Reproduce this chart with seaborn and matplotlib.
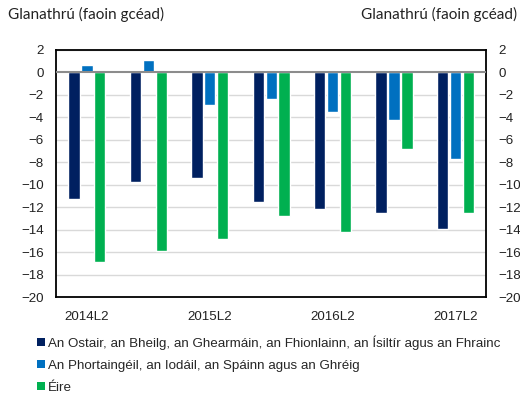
import pandas as pd
import seaborn as sns
import matplotlib.pyplot as plt
from matplotlib.patches import Patch

# Data
periods = ["2014L2", "2014L4", "2015L2", "2015L4", "2016L2", "2016L4", "2017L2"]
series = [
    "An Ostair, an Bheilg, an Ghearmáin, an Fhionlainn, an Ísiltír agus an Fhrainc",
    "An Phortaingéil, an Iodáil, an Spáinn agus an Ghréig",
    "Éire",
]
core = [-11.3, -9.8, -9.4, -11.5, -12.2, -12.5, -13.9]
periphery = [0.7, 1.1, -2.9, -2.4, -3.5, -4.2, -7.7]
ireland = [-16.9, -15.9, -14.8, -12.8, -14.2, -6.8, -12.5]
tick_labels = ["2014L2", "", "2015L2", "", "2016L2", "", "2017L2"]
colors = ["#002060", "#0070C0", "#00B050"]

df = pd.DataFrame({"period": periods * 3,
                   "series": [series[0]] * 7 + [series[1]] * 7 + [series[2]] * 7,
                   "value": core + periphery + ireland})

sns.set_style("white")
plt.rcParams['font.family'] = ['Liberation Sans', 'DejaVu Sans']

fig = plt.figure(figsize=(5.2, 4), dpi=100)
ax = fig.add_axes([0.108, 0.2575, 0.827, 0.6175])

ax.set_axisbelow(True)
for v in range(-20, 3, 2):
    if v != 0:
        ax.axhline(v, color="#D9D9D9", lw=1, zorder=0)

sns.barplot(data=df, x="period", y="value", hue="series", palette=colors,
            width=0.63, gap=0.12, ax=ax, legend=False, saturation=1)
ax.axhline(0, color="#8C8C8C", lw=1.5, zorder=3)

ax.set_ylim(-20, 2)
ax.set_xlim(-0.5, 6.5)
ax.set_yticks(range(-20, 3, 2))
ax.set_xticks(range(7))
ax.set_xticklabels(tick_labels)
ax.set_xlabel("")
ax.set_ylabel("")
ax.tick_params(axis="both", length=0, labelsize=9.6, pad=9, colors="#222222")
ax.tick_params(axis="x", pad=10)
for s in ax.spines.values():
    s.set_color("black")
    s.set_linewidth(1.3)

ax2 = ax.twinx()
ax2.set_ylim(-20, 2)
ax2.set_yticks(range(-20, 3, 2))
ax2.tick_params(axis="y", length=0, labelsize=9.6, pad=9, colors="#222222")
for s in ax2.spines.values():
    s.set_visible(False)

fig.text(0.015, 0.965, "Glanathrú (faoin gcéad)", fontsize=11, family=["Lato", "DejaVu Sans"],
         va="center", ha="left", color="#222222")
fig.text(0.995, 0.965, "Glanathrú (faoin gcéad)", fontsize=11, family=["Lato", "DejaVu Sans"],
         va="center", ha="right", color="#222222")

handles = [Patch(facecolor=c, edgecolor="none") for c in colors]
fig.legend(handles, series, loc="upper left", bbox_to_anchor=(0.072, 0.162),
           frameon=False, fontsize=9.6, handlelength=0.6, handleheight=0.6,
           handletextpad=0.2, labelspacing=0.75, borderaxespad=0, borderpad=0)

fig.savefig("out.png", dpi=100)
